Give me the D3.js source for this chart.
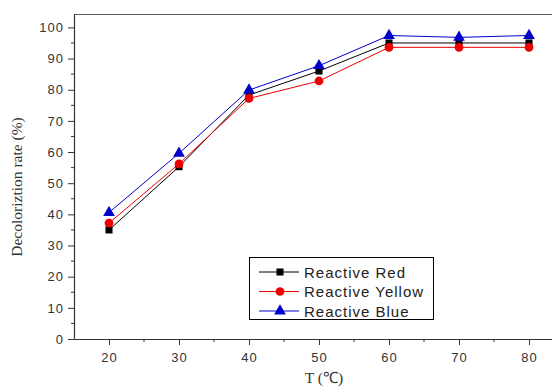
<!DOCTYPE html>
<html>
<head>
<meta charset="utf-8">
<script src="https://cdn.jsdelivr.net/npm/d3@7"></script>
<style>
  body { margin: 0; background: #fff; }
  svg { display: block; }
</style>
</head>
<body>
<div id="chart"></div>
<script>
// data
const temps = [20, 30, 40, 50, 60, 70, 80];
const redVals = [35, 55.3, 78.3, 86, 95, 95, 95];
const yellowVals = [37.2, 56.2, 77.2, 82.8, 93.6, 93.6, 93.6];
const blueVals = [40.6, 59.6, 79.9, 87.7, 97.4, 96.8, 97.4];
const seriesNames = ["Reactive Red", "Reactive Yellow", "Reactive Blue"];
const xTicks = [20, 30, 40, 50, 60, 70, 80];
const yTicks = [0, 10, 20, 30, 40, 50, 60, 70, 80, 90, 100];

const W = 552, H = 388;
const plotL = 74, plotT = 14, plotB = 339, plotR = 564;

const svg = d3.select("#chart").append("svg")
  .attr("width", W).attr("height", H);

const x = d3.scaleLinear().domain([15, 85]).range([plotL, plotR]);
const y = d3.scaleLinear().domain([0, 104.3]).range([plotB, plotT]);

// top frame line
svg.append("line")
  .attr("x1", plotL).attr("x2", plotR)
  .attr("y1", plotT + 0.5).attr("y2", plotT + 0.5)
  .attr("stroke", "#555").attr("stroke-width", 1.2);

// minor ticks
const xMinor = d3.range(25, 85, 10);
const yMinor = d3.range(5, 105, 10);

const xAxis = svg.append("g")
  .attr("transform", `translate(0,${plotB})`)
  .call(d3.axisBottom(x).tickValues(xTicks).tickSize(6).tickPadding(4).tickSizeOuter(0));
xAxis.append("g").selectAll("line").data(xMinor).join("line")
  .attr("x1", d => x(d)).attr("x2", d => x(d))
  .attr("y1", 0).attr("y2", 3);

const yAxis = svg.append("g")
  .attr("transform", `translate(${plotL},0)`)
  .call(d3.axisLeft(y).tickValues(yTicks).tickSize(6).tickPadding(4).tickSizeOuter(0));
yAxis.append("g").selectAll("line").data(yMinor).join("line")
  .attr("x1", 0).attr("x2", -3)
  .attr("y1", d => y(d)).attr("y2", d => y(d));

[xAxis, yAxis].forEach(a => {
  a.select(".domain").attr("stroke", "#333").attr("stroke-width", 1.2);
  a.selectAll("line").attr("stroke", "#333");
  a.selectAll("text")
    .attr("fill", "#333")
    .style("font-family", "'Liberation Sans', Arial, sans-serif")
    .style("font-size", "13px")
    .style("letter-spacing", "1px");
});
xAxis.selectAll(".tick text").attr("dy", "1.0em");

// axis titles
svg.append("text")
  .attr("transform", `translate(22,187) rotate(-90)`)
  .attr("text-anchor", "middle")
  .style("font-family", "'Liberation Serif', 'Times New Roman', serif")
  .style("font-size", "15.5px")
  .attr("fill", "#333")
  .text("Decoloriztion rate (%)");

svg.append("text")
  .attr("x", 324).attr("y", 383)
  .attr("text-anchor", "middle")
  .style("font-family", "'Liberation Serif', 'Times New Roman', serif")
  .style("font-size", "15.5px")
  .attr("fill", "#333")
  .text("T (\u2103)");

const series = [
  { name: seriesNames[0], vals: redVals, color: "#000", shape: d3.symbolSquare, size: 50 },
  { name: seriesNames[1], vals: yellowVals, color: "#e00", shape: d3.symbolCircle, size: 60 },
  { name: seriesNames[2], vals: blueVals, color: "#00c", shape: d3.symbolTriangle, size: 60 }
];

const line = d3.line()
  .x((d, i) => x(temps[i]))
  .y(d => y(d));

series.forEach(s => {
  svg.append("path")
    .attr("d", line(s.vals))
    .attr("fill", "none")
    .attr("stroke", s.color)
    .attr("stroke-width", 1);
});

series.forEach(s => {
  svg.append("g").selectAll("path").data(s.vals).join("path")
    .attr("transform", (d, i) => `translate(${x(temps[i])},${y(d)})`)
    .attr("d", d3.symbol().type(s.shape).size(s.size))
    .attr("fill", s.color);
});

// legend
const lg = svg.append("g").attr("transform", "translate(249,257)");
lg.append("rect")
  .attr("x", 0.5).attr("y", 0.5)
  .attr("width", 184).attr("height", 62)
  .attr("fill", "#fff").attr("stroke", "#000").attr("stroke-width", 1);

series.forEach((s, i) => {
  const gy = 15 + i * 19.5;
  lg.append("line")
    .attr("x1", 10).attr("x2", 50)
    .attr("y1", gy).attr("y2", gy)
    .attr("stroke", s.color).attr("stroke-width", 1);
  lg.append("path")
    .attr("transform", `translate(31,${gy})`)
    .attr("d", d3.symbol().type(s.shape).size(s.size))
    .attr("fill", s.color);
  lg.append("text")
    .attr("x", 55).attr("y", gy + 5.5)
    .style("font-family", "'Liberation Sans', Arial, sans-serif")
    .style("font-size", "15px")
    .style("letter-spacing", "1px")
    .attr("fill", "#222")
    .text(s.name);
});
</script>
</body>
</html>
